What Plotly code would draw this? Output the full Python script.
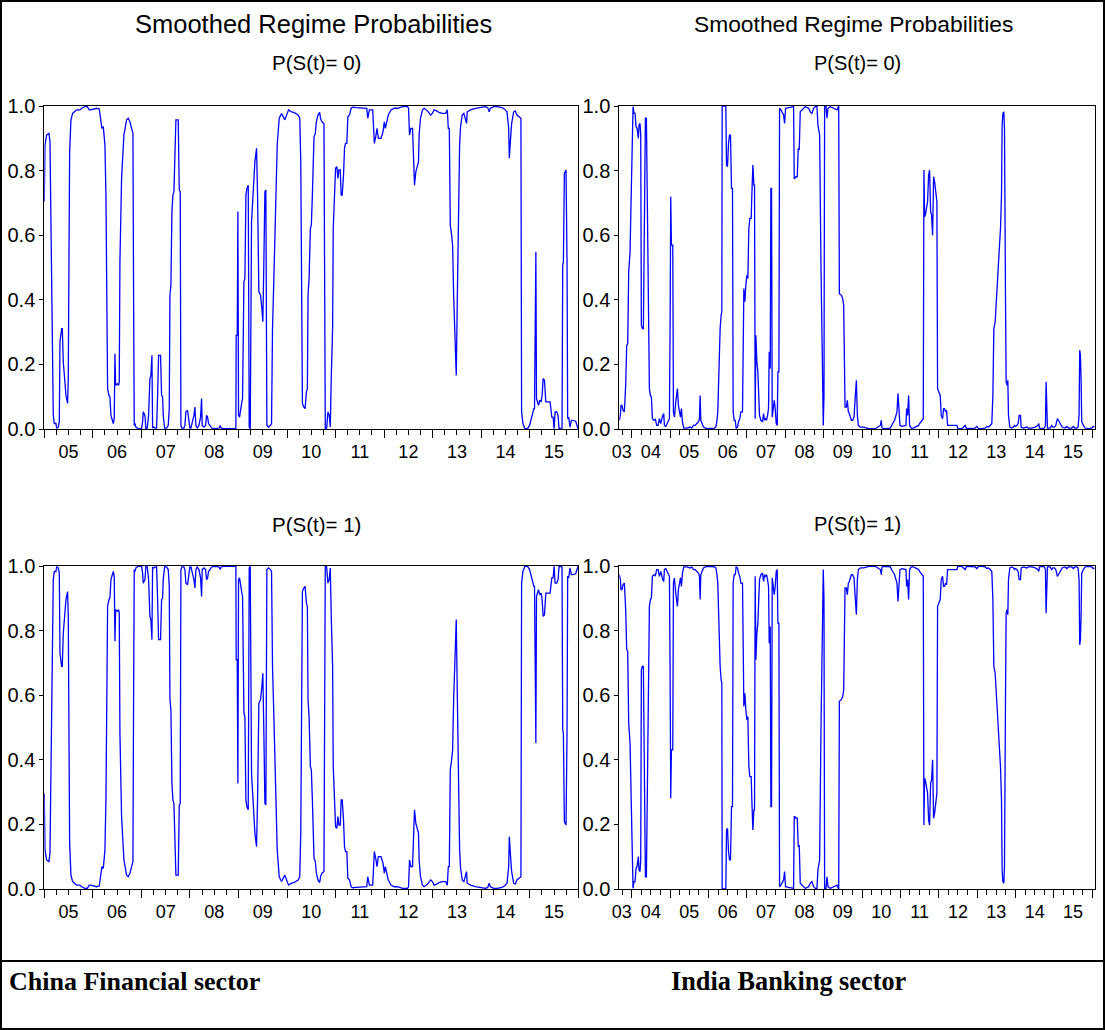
import plotly.graph_objects as go

# ---------------- DATA ----------------
china_dates = [
    2005.000, 2005.014, 2005.048, 2005.096, 2005.117, 2005.137, 2005.165, 2005.185, 2005.206, 2005.240,
    2005.254, 2005.288, 2005.309, 2005.323, 2005.357, 2005.371, 2005.391, 2005.412, 2005.426, 2005.446,
    2005.480, 2005.494, 2005.508, 2005.522, 2005.549, 2005.583, 2005.666, 2005.734, 2005.769, 2005.837,
    2005.885, 2005.927, 2005.954, 2006.009, 2006.078, 2006.132, 2006.160, 2006.187, 2006.215, 2006.249,
    2006.270, 2006.290, 2006.304, 2006.332, 2006.352, 2006.373, 2006.400, 2006.421, 2006.441, 2006.455,
    2006.469, 2006.503, 2006.531, 2006.544, 2006.558, 2006.592, 2006.640, 2006.695, 2006.730, 2006.764,
    2006.798, 2006.826, 2006.839, 2006.853, 2006.867, 2006.887, 2006.935, 2007.004, 2007.025, 2007.038,
    2007.073, 2007.093, 2007.121, 2007.148, 2007.176, 2007.196, 2007.217, 2007.231, 2007.258, 2007.286,
    2007.313, 2007.334, 2007.354, 2007.395, 2007.416, 2007.437, 2007.450, 2007.478, 2007.519, 2007.553,
    2007.574, 2007.588, 2007.608, 2007.629, 2007.649, 2007.670, 2007.690, 2007.711, 2007.759, 2007.780,
    2007.800, 2007.814, 2007.835, 2007.876, 2007.896, 2007.917, 2007.951, 2007.979, 2007.999, 2008.020,
    2008.054, 2008.082, 2008.102, 2008.123, 2008.150, 2008.185, 2008.219, 2008.240, 2008.253, 2008.288,
    2008.322, 2008.343, 2008.363, 2008.384, 2008.411, 2008.446, 2008.514, 2008.603, 2008.624, 2008.645,
    2008.686, 2008.946, 2008.953, 2008.974, 2008.988, 2009.001, 2009.022, 2009.043, 2009.070, 2009.084,
    2009.112, 2009.132, 2009.153, 2009.173, 2009.201, 2009.221, 2009.242, 2009.269, 2009.303, 2009.338,
    2009.372, 2009.393, 2009.420, 2009.454, 2009.482, 2009.502, 2009.523, 2009.544, 2009.564, 2009.585,
    2009.619, 2009.660, 2009.681, 2009.701, 2009.729, 2009.756, 2009.798, 2009.839, 2009.887, 2009.955,
    2009.990, 2010.031, 2010.093, 2010.141,
    2010.228, 2010.262, 2010.283, 2010.296, 2010.317, 2010.344, 2010.372, 2010.399, 2010.419, 2010.433,
    2010.454, 2010.481, 2010.501, 2010.522, 2010.542, 2010.556, 2010.583, 2010.604, 2010.638, 2010.672,
    2010.693, 2010.720, 2010.761, 2010.775, 2010.788, 2010.816, 2010.843, 2010.870, 2010.891, 2010.911,
    2010.939, 2010.952, 2010.980, 2011.000, 2011.027, 2011.048, 2011.068, 2011.096, 2011.116, 2011.137,
    2011.164, 2011.184, 2011.205, 2011.232, 2011.253, 2011.287, 2011.321, 2011.355, 2011.423, 2011.526,
    2011.594, 2011.642, 2011.663, 2011.697, 2011.765, 2011.799, 2011.833, 2011.854, 2011.881, 2011.936,
    2011.977, 2012.004, 2012.025, 2012.052, 2012.086, 2012.141, 2012.209, 2012.277, 2012.380, 2012.482,
    2012.503, 2012.523, 2012.551, 2012.585, 2012.605, 2012.626, 2012.653, 2012.687, 2012.708, 2012.721,
    2012.749, 2012.790, 2012.824, 2012.892, 2012.960, 2012.995, 2013.029, 2013.083, 2013.131, 2013.199,
    2013.268, 2013.302, 2013.322, 2013.343, 2013.363, 2013.391, 2013.411, 2013.432, 2013.459, 2013.486,
    2013.507, 2013.527, 2013.555, 2013.575, 2013.609, 2013.643, 2013.678, 2013.698, 2013.712, 2013.780,
    2013.883, 2013.985, 2014.087, 2014.135, 2014.163, 2014.190, 2014.258, 2014.327, 2014.429, 2014.477,
    2014.531, 2014.566, 2014.579, 2014.600, 2014.627, 2014.668, 2014.702, 2014.736, 2014.791, 2014.818,
    2014.832, 2014.859, 2014.900, 2014.955, 2014.996, 2015.030, 2015.064, 2015.085, 2015.098, 2015.112,
    2015.126, 2015.139, 2015.160, 2015.180, 2015.207, 2015.235, 2015.255, 2015.276, 2015.303, 2015.331,
    2015.365, 2015.419, 2015.454, 2015.481, 2015.501, 2015.522, 2015.556, 2015.583, 2015.604, 2015.638,
    2015.665, 2015.679, 2015.693, 2015.713, 2015.747, 2015.768, 2015.781, 2015.802, 2015.829, 2015.857,
    2015.891, 2015.945, 2015.980, 2015.995,
]

china_p0 = [
    0.704, 0.879, 0.910, 0.915, 0.889, 0.621, 0.311, 0.042, 0.017, 0.017,
    0.003, 0.006, 0.022, 0.270, 0.311, 0.311, 0.208, 0.166, 0.166, 0.104,
    0.079, 0.156, 0.518, 0.858, 0.957, 0.977, 0.988, 0.988, 0.993, 0.998,
    0.998, 0.988, 0.988, 0.991, 0.993, 0.991, 0.967, 0.931, 0.936, 0.879,
    0.724, 0.414, 0.125, 0.104, 0.099, 0.042, 0.027, 0.017, 0.032, 0.233,
    0.135, 0.140, 0.135, 0.146, 0.518, 0.776, 0.910, 0.957, 0.962, 0.951,
    0.931, 0.915, 0.414, 0.011, 0.017, 0.006, 0.001, 0.001, 0.022, 0.053,
    0.042, 0.001, 0.003, 0.042, 0.156, 0.166, 0.228, 0.003, 0.006, 0.003,
    0.003, 0.104, 0.228, 0.228, 0.104, 0.099, 0.042, 0.003, 0.003, 0.011,
    0.063, 0.414, 0.445, 0.673, 0.724, 0.735, 0.879, 0.957, 0.957, 0.740,
    0.735, 0.011, 0.003, 0.003, 0.011, 0.053, 0.058, 0.017, 0.003, 0.003,
    0.022, 0.042, 0.068, 0.011, 0.003, 0.011, 0.037, 0.094, 0.011, 0.006,
    0.011, 0.042, 0.037, 0.017, 0.011, 0.003, 0.001, 0.003, 0.011, 0.003,
    0.001, 0.001, 0.290, 0.290, 0.673, 0.042, 0.037, 0.063, 0.084, 0.094,
    0.456, 0.466, 0.724, 0.745, 0.755, 0.006, 0.001, 0.642, 0.724, 0.827,
    0.869, 0.724, 0.425, 0.414, 0.373, 0.332, 0.518, 0.735, 0.740, 0.011,
    0.006, 0.011, 0.017, 0.311, 0.466, 0.600, 0.879, 0.962, 0.977, 0.957,
    0.972, 0.988, 0.982, 0.980,
    0.972, 0.962, 0.827, 0.518, 0.079, 0.068, 0.063, 0.115, 0.125, 0.414,
    0.466, 0.621, 0.631, 0.724, 0.827, 0.905, 0.915, 0.951, 0.972, 0.980,
    0.960, 0.951, 0.946, 0.414, 0.001, 0.003, 0.053, 0.042, 0.006, 0.156,
    0.311, 0.621, 0.724, 0.807, 0.812, 0.776, 0.802, 0.802, 0.724, 0.724,
    0.786, 0.869, 0.884, 0.884, 0.967, 0.972, 0.993, 0.996, 0.995, 0.995,
    0.993, 0.993, 0.962, 0.988, 0.988, 0.884, 0.910, 0.931, 0.900, 0.900,
    0.920, 0.951, 0.931, 0.951, 0.972, 0.988, 0.993, 0.993, 0.998, 0.998,
    0.993, 0.910, 0.931, 0.931, 0.848, 0.755, 0.796, 0.812, 0.827, 0.910,
    0.962, 0.988, 0.993, 0.985, 0.972, 0.977, 0.988, 0.985, 0.980, 0.977,
    0.977, 0.988, 0.931, 0.931, 0.631, 0.600, 0.569, 0.414, 0.311, 0.166,
    0.394, 0.621, 0.879, 0.936, 0.972, 0.977, 0.951, 0.946, 0.982, 0.988,
    0.993, 0.996, 0.998, 0.995, 0.982, 0.993, 0.998, 0.998, 0.995, 0.991,
    0.982, 0.931, 0.838, 0.889, 0.946, 0.982, 0.985, 0.972, 0.967, 0.962,
    0.053, 0.017, 0.001, 0.001, 0.011, 0.032, 0.053, 0.063, 0.063, 0.549,
    0.549, 0.094, 0.084, 0.073, 0.089, 0.084, 0.104, 0.156, 0.151, 0.084,
    0.084, 0.084, 0.037, 0.037, 0.001, 0.053, 0.053, 0.042, 0.001, 0.001,
    0.003, 0.507, 0.518, 0.791, 0.802, 0.518, 0.032, 0.037, 0.006, 0.027,
    0.027, 0.024, 0.011, 0.001,
]

china_p1 = [
    0.296, 0.121, 0.090, 0.085, 0.111, 0.379, 0.689, 0.958, 0.983, 0.983,
    0.997, 0.994, 0.978, 0.730, 0.689, 0.689, 0.792, 0.834, 0.834, 0.896,
    0.921, 0.844, 0.482, 0.142, 0.043, 0.023, 0.012, 0.012, 0.007, 0.002,
    0.002, 0.012, 0.012, 0.009, 0.007, 0.009, 0.033, 0.069, 0.064, 0.121,
    0.276, 0.586, 0.875, 0.896, 0.901, 0.958, 0.973, 0.983, 0.968, 0.767,
    0.865, 0.860, 0.865, 0.854, 0.482, 0.224, 0.090, 0.043, 0.038, 0.049,
    0.069, 0.085, 0.586, 0.989, 0.983, 0.994, 0.999, 0.999, 0.978, 0.947,
    0.958, 0.999, 0.997, 0.958, 0.844, 0.834, 0.772, 0.997, 0.994, 0.997,
    0.997, 0.896, 0.772, 0.772, 0.896, 0.901, 0.958, 0.997, 0.997, 0.989,
    0.937, 0.586, 0.555, 0.327, 0.276, 0.265, 0.121, 0.043, 0.043, 0.260,
    0.265, 0.989, 0.997, 0.997, 0.989, 0.947, 0.942, 0.983, 0.997, 0.997,
    0.978, 0.958, 0.932, 0.989, 0.997, 0.989, 0.963, 0.906, 0.989, 0.994,
    0.989, 0.958, 0.963, 0.983, 0.989, 0.997, 0.999, 0.997, 0.989, 0.997,
    0.999, 0.999, 0.710, 0.710, 0.327, 0.958, 0.963, 0.937, 0.916, 0.906,
    0.544, 0.534, 0.276, 0.255, 0.245, 0.994, 0.999, 0.358, 0.276, 0.173,
    0.131, 0.276, 0.575, 0.586, 0.627, 0.668, 0.482, 0.265, 0.260, 0.989,
    0.994, 0.989, 0.983, 0.689, 0.534, 0.400, 0.121, 0.038, 0.023, 0.043,
    0.028, 0.012, 0.018, 0.020,
    0.028, 0.038, 0.173, 0.482, 0.921, 0.932, 0.937, 0.885, 0.875, 0.586,
    0.534, 0.379, 0.369, 0.276, 0.173, 0.095, 0.085, 0.049, 0.028, 0.020,
    0.040, 0.049, 0.054, 0.586, 0.999, 0.997, 0.947, 0.958, 0.994, 0.844,
    0.689, 0.379, 0.276, 0.193, 0.188, 0.224, 0.198, 0.198, 0.276, 0.276,
    0.214, 0.131, 0.116, 0.116, 0.033, 0.028, 0.007, 0.004, 0.005, 0.005,
    0.007, 0.007, 0.038, 0.012, 0.012, 0.116, 0.090, 0.069, 0.100, 0.100,
    0.080, 0.049, 0.069, 0.049, 0.028, 0.012, 0.007, 0.007, 0.002, 0.002,
    0.007, 0.090, 0.069, 0.069, 0.152, 0.245, 0.204, 0.188, 0.173, 0.090,
    0.038, 0.012, 0.007, 0.015, 0.028, 0.023, 0.012, 0.015, 0.020, 0.023,
    0.023, 0.012, 0.069, 0.069, 0.369, 0.400, 0.431, 0.586, 0.689, 0.834,
    0.606, 0.379, 0.121, 0.064, 0.028, 0.023, 0.049, 0.054, 0.018, 0.012,
    0.007, 0.004, 0.002, 0.005, 0.018, 0.007, 0.002, 0.002, 0.005, 0.009,
    0.018, 0.069, 0.162, 0.111, 0.054, 0.018, 0.015, 0.028, 0.033, 0.038,
    0.947, 0.983, 0.999, 0.999, 0.989, 0.968, 0.947, 0.937, 0.937, 0.451,
    0.451, 0.906, 0.916, 0.927, 0.911, 0.916, 0.896, 0.844, 0.849, 0.916,
    0.916, 0.916, 0.963, 0.963, 0.999, 0.947, 0.947, 0.958, 0.999, 0.999,
    0.997, 0.493, 0.482, 0.209, 0.198, 0.482, 0.968, 0.963, 0.994, 0.973,
    0.973, 0.976, 0.989, 0.999,
]

india_dates = [
    2003.678, 2003.704, 2003.722, 2003.748, 2003.774, 2003.809, 2003.843, 2003.870, 2003.896, 2003.922,
    2003.957, 2003.983, 2004.009, 2004.035, 2004.061, 2004.087, 2004.113, 2004.139, 2004.174, 2004.191,
    2004.217, 2004.235, 2004.252, 2004.278, 2004.304, 2004.330, 2004.357, 2004.383, 2004.409, 2004.435,
    2004.461, 2004.487, 2004.513, 2004.539, 2004.583, 2004.617, 2004.652, 2004.687, 2004.722, 2004.757,
    2004.783, 2004.809, 2004.835, 2004.852, 2004.887, 2004.930, 2004.965, 2004.983, 2005.000, 2005.017,
    2005.035, 2005.070, 2005.087, 2005.113, 2005.148, 2005.191, 2005.217, 2005.243, 2005.270, 2005.296,
    2005.322, 2005.357, 2005.435, 2005.522, 2005.565, 2005.609, 2005.652, 2005.696, 2005.739, 2005.765,
    2005.783, 2005.800, 2005.826, 2005.870, 2005.957, 2006.043, 2006.157, 2006.191, 2006.217, 2006.243,
    2006.278, 2006.304, 2006.330, 2006.348, 2006.357, 2006.452, 2006.470, 2006.496, 2006.522, 2006.548,
    2006.574, 2006.600, 2006.626, 2006.643, 2006.670, 2006.696, 2006.722, 2006.757, 2006.783, 2006.817,
    2006.843, 2006.887, 2006.922, 2006.948, 2006.974, 2007.000, 2007.026, 2007.052, 2007.078, 2007.113,
    2007.130, 2007.157, 2007.183, 2007.200, 2007.217, 2007.235, 2007.261, 2007.287, 2007.313, 2007.330,
    2007.365, 2007.409, 2007.435, 2007.461, 2007.487, 2007.513, 2007.539, 2007.565, 2007.583, 2007.609,
    2007.626, 2007.643, 2007.661, 2007.687, 2007.713, 2007.739, 2007.765, 2007.791, 2007.809, 2007.835,
    2007.852, 2007.887, 2007.922, 2007.957, 2007.983, 2008.009, 2008.087, 2008.174, 2008.217, 2008.235,
    2008.252, 2008.278, 2008.313, 2008.339, 2008.365, 2008.391, 2008.435, 2008.522, 2008.609, 2008.652,
    2008.696, 2008.739, 2008.783, 2008.826, 2008.852, 2008.896, 2008.930, 2008.957, 2008.974, 2008.991,
    2009.009, 2009.026, 2009.061, 2009.087, 2009.113, 2009.174, 2009.261, 2009.348,
    2009.393, 2009.410, 2009.462, 2009.497, 2009.523, 2009.540, 2009.558, 2009.592, 2009.618, 2009.644,
    2009.670, 2009.696, 2009.722, 2009.757, 2009.792, 2009.827, 2009.853, 2009.879, 2009.905, 2009.957,
    2010.043, 2010.130, 2010.173, 2010.347, 2010.434, 2010.477, 2010.503, 2010.520, 2010.607, 2010.737,
    2010.798, 2010.850, 2010.885, 2010.911, 2010.937, 2010.963, 2010.989, 2011.041, 2011.110, 2011.145,
    2011.162, 2011.188, 2011.214, 2011.240, 2011.284, 2011.344, 2011.388, 2011.431, 2011.474, 2011.500,
    2011.535, 2011.570, 2011.596, 2011.613, 2011.631, 2011.657, 2011.683, 2011.709, 2011.735, 2011.761,
    2011.787, 2011.813, 2011.839, 2011.865, 2011.891, 2011.925, 2011.951, 2011.969, 2012.003, 2012.038,
    2012.064, 2012.099, 2012.125, 2012.151, 2012.177, 2012.203, 2012.229, 2012.255, 2012.298, 2012.342,
    2012.428, 2012.472, 2012.498, 2012.602, 2012.645, 2012.689, 2012.723, 2012.862, 2012.949, 2012.992,
    2013.036, 2013.122, 2013.209, 2013.252, 2013.296, 2013.339, 2013.382, 2013.409, 2013.435, 2013.469,
    2013.504, 2013.539, 2013.573, 2013.608, 2013.634, 2013.651, 2013.669, 2013.695, 2013.712, 2013.738,
    2013.755, 2013.781, 2013.799, 2013.816, 2013.851, 2013.903, 2013.946, 2013.972, 2013.998, 2014.033,
    2014.068, 2014.094, 2014.128, 2014.146, 2014.206, 2014.293, 2014.337, 2014.423, 2014.510, 2014.579,
    2014.605, 2014.623, 2014.683, 2014.753, 2014.779, 2014.796, 2014.814, 2014.831, 2014.900, 2014.944,
    2014.970, 2015.013, 2015.048, 2015.091, 2015.117, 2015.143, 2015.178, 2015.213, 2015.291, 2015.334,
    2015.377, 2015.464, 2015.507, 2015.542, 2015.594, 2015.629, 2015.655, 2015.672, 2015.690, 2015.707,
    2015.724, 2015.768, 2015.811, 2015.898, 2015.984, 2016.028, 2016.054,
]

india_p0 = [
    0.027, 0.042, 0.073, 0.073, 0.058, 0.053, 0.135, 0.259, 0.264, 0.487,
    0.549, 0.724, 0.931, 0.998, 0.977, 0.977, 0.936, 0.931, 0.900, 0.941,
    0.946, 0.910, 0.321, 0.311, 0.311, 0.569, 0.962, 0.962, 0.724, 0.518,
    0.125, 0.104, 0.099, 0.032, 0.027, 0.030, 0.011, 0.011, 0.032, 0.017,
    0.037, 0.042, 0.048, 0.011, 0.008, 0.017, 0.027, 0.032, 0.311, 0.719,
    0.569, 0.569, 0.053, 0.037, 0.084, 0.125, 0.073, 0.053, 0.037, 0.063,
    0.022, 0.003, 0.003, 0.006, 0.003, 0.011, 0.011, 0.017, 0.022, 0.032,
    0.104, 0.027, 0.017, 0.006, 0.001, 0.001, 0.003, 0.006, 0.022, 0.053,
    0.270, 0.311, 0.352, 0.363, 1.000, 1.000, 0.817, 0.812, 0.884, 0.910,
    0.910, 0.745, 0.745, 0.053, 0.027, 0.027, 0.003, 0.006, 0.022, 0.032,
    0.053, 0.053, 0.435, 0.394, 0.445, 0.476, 0.466, 0.621, 0.652, 0.652,
    0.724, 0.817, 0.755, 0.755, 0.032, 0.290, 0.208, 0.177, 0.094, 0.042,
    0.027, 0.022, 0.048, 0.027, 0.032, 0.027, 0.042, 0.063, 0.239, 0.187,
    0.745, 0.745, 0.037, 0.058, 0.089, 0.063, 0.017, 0.011, 0.177, 0.177,
    0.993, 0.988, 0.977, 0.972, 0.946, 0.993, 0.995, 0.998, 0.998, 0.776,
    0.776, 0.781, 0.781, 0.869, 0.864, 0.982, 0.988, 0.998, 0.993, 0.982,
    0.977, 0.993, 0.998, 0.998, 0.941, 0.910, 0.518, 0.208, 0.135, 0.011,
    0.104, 1.000, 1.000, 0.962, 0.993, 0.998, 0.993, 0.988,
    1.000, 0.419, 0.414, 0.404, 0.383, 0.104, 0.068, 0.068, 0.089, 0.053,
    0.048, 0.037, 0.027, 0.027, 0.037, 0.104, 0.151, 0.042, 0.011, 0.006,
    0.006, 0.003, 0.001, 0.001, 0.006, 0.011, 0.027, 0.003, 0.001, 0.003,
    0.017, 0.027, 0.042, 0.053, 0.110, 0.053, 0.011, 0.008, 0.011, 0.011,
    0.063, 0.042, 0.104, 0.011, 0.003, 0.003, 0.006, 0.008, 0.011, 0.017,
    0.022, 0.027, 0.032, 0.802, 0.657, 0.667, 0.693, 0.704, 0.786, 0.802,
    0.673, 0.662, 0.600, 0.781, 0.766, 0.724, 0.704, 0.125, 0.115, 0.104,
    0.042, 0.032, 0.063, 0.063, 0.053, 0.058, 0.011, 0.011, 0.009, 0.011,
    0.011, 0.011, 0.001, 0.001, 0.006, 0.011, 0.001, 0.001, 0.003, 0.008,
    0.001, 0.001, 0.003, 0.008, 0.006, 0.011, 0.017, 0.104, 0.311, 0.332,
    0.394, 0.487, 0.549, 0.621, 0.724, 0.941, 0.977, 0.982, 0.931, 0.414,
    0.146, 0.135, 0.151, 0.042, 0.006, 0.003, 0.006, 0.011, 0.008, 0.011,
    0.017, 0.042, 0.042, 0.006, 0.003, 0.006, 0.003, 0.003, 0.006, 0.011,
    0.017, 0.003, 0.001, 0.003, 0.011, 0.146, 0.042, 0.003, 0.003, 0.011,
    0.006, 0.006, 0.011, 0.032, 0.027, 0.022, 0.011, 0.006, 0.003, 0.008,
    0.003, 0.003, 0.008, 0.003, 0.003, 0.006, 0.042, 0.244, 0.228, 0.156,
    0.022, 0.011, 0.003, 0.001, 0.003, 0.008, 0.006,
]

india_p1 = [
    0.973, 0.958, 0.927, 0.927, 0.942, 0.947, 0.865, 0.741, 0.736, 0.513,
    0.451, 0.276, 0.069, 0.002, 0.023, 0.023, 0.064, 0.069, 0.100, 0.059,
    0.054, 0.090, 0.679, 0.689, 0.689, 0.431, 0.038, 0.038, 0.276, 0.482,
    0.875, 0.896, 0.901, 0.968, 0.973, 0.970, 0.989, 0.989, 0.968, 0.983,
    0.963, 0.958, 0.952, 0.989, 0.992, 0.983, 0.973, 0.968, 0.689, 0.281,
    0.431, 0.431, 0.947, 0.963, 0.916, 0.875, 0.927, 0.947, 0.963, 0.937,
    0.978, 0.997, 0.997, 0.994, 0.997, 0.989, 0.989, 0.983, 0.978, 0.968,
    0.896, 0.973, 0.983, 0.994, 0.999, 0.999, 0.997, 0.994, 0.978, 0.947,
    0.730, 0.689, 0.648, 0.637, 0.000, 0.000, 0.183, 0.188, 0.116, 0.090,
    0.090, 0.255, 0.255, 0.947, 0.973, 0.973, 0.997, 0.994, 0.978, 0.968,
    0.947, 0.947, 0.565, 0.606, 0.555, 0.524, 0.534, 0.379, 0.348, 0.348,
    0.276, 0.183, 0.245, 0.245, 0.968, 0.710, 0.792, 0.823, 0.906, 0.958,
    0.973, 0.978, 0.952, 0.973, 0.968, 0.973, 0.958, 0.937, 0.761, 0.813,
    0.255, 0.255, 0.963, 0.942, 0.911, 0.937, 0.983, 0.989, 0.823, 0.823,
    0.007, 0.012, 0.023, 0.028, 0.054, 0.007, 0.005, 0.002, 0.002, 0.224,
    0.224, 0.219, 0.219, 0.131, 0.136, 0.018, 0.012, 0.002, 0.007, 0.018,
    0.023, 0.007, 0.002, 0.002, 0.059, 0.090, 0.482, 0.792, 0.865, 0.989,
    0.896, 0.000, 0.000, 0.038, 0.007, 0.002, 0.007, 0.012,
    0.000, 0.581, 0.586, 0.596, 0.617, 0.896, 0.932, 0.932, 0.911, 0.947,
    0.952, 0.963, 0.973, 0.973, 0.963, 0.896, 0.849, 0.958, 0.989, 0.994,
    0.994, 0.997, 0.999, 0.999, 0.994, 0.989, 0.973, 0.997, 0.999, 0.997,
    0.983, 0.973, 0.958, 0.947, 0.890, 0.947, 0.989, 0.992, 0.989, 0.989,
    0.937, 0.958, 0.896, 0.989, 0.997, 0.997, 0.994, 0.992, 0.989, 0.983,
    0.978, 0.973, 0.968, 0.198, 0.343, 0.333, 0.307, 0.296, 0.214, 0.198,
    0.327, 0.338, 0.400, 0.219, 0.234, 0.276, 0.296, 0.875, 0.885, 0.896,
    0.958, 0.968, 0.937, 0.937, 0.947, 0.942, 0.989, 0.989, 0.991, 0.989,
    0.989, 0.989, 0.999, 0.999, 0.994, 0.989, 0.999, 0.999, 0.997, 0.992,
    0.999, 0.999, 0.997, 0.992, 0.994, 0.989, 0.983, 0.896, 0.689, 0.668,
    0.606, 0.513, 0.451, 0.379, 0.276, 0.059, 0.023, 0.018, 0.069, 0.586,
    0.854, 0.865, 0.849, 0.958, 0.994, 0.997, 0.994, 0.989, 0.992, 0.989,
    0.983, 0.958, 0.958, 0.994, 0.997, 0.994, 0.997, 0.997, 0.994, 0.989,
    0.983, 0.997, 0.999, 0.997, 0.989, 0.854, 0.958, 0.997, 0.997, 0.989,
    0.994, 0.994, 0.989, 0.968, 0.973, 0.978, 0.989, 0.994, 0.997, 0.992,
    0.997, 0.997, 0.992, 0.997, 0.997, 0.994, 0.958, 0.756, 0.772, 0.844,
    0.978, 0.989, 0.997, 0.999, 0.997, 0.992, 0.994,
]

# tick labels (two-digit years) and where they sit on the time axis
china_year_labels = ["05", "06", "07", "08", "09", "10", "11", "12", "13", "14", "15"]
china_label_pos = [2005.5, 2006.5, 2007.5, 2008.5, 2009.5, 2010.5, 2011.5, 2012.5, 2013.5, 2014.5, 2015.5]
india_year_labels = ["03", "04", "05", "06", "07", "08", "09", "10", "11", "12", "13", "14", "15"]
india_label_pos = [2003.74, 2004.5, 2005.5, 2006.5, 2007.5, 2008.5, 2009.5, 2010.5, 2011.5,
                   2012.5, 2013.5, 2014.5, 2015.5]
china_range = [2005.0, 2016.0]
india_range = [2003.677, 2016.07]
y_ticks = [0.0, 0.2, 0.4, 0.6, 0.8, 1.0]
y_tick_text = ["0.0", "0.2", "0.4", "0.6", "0.8", "1.0"]

# ---------------- LAYOUT ----------------
W, H = 1105, 1030
SANS = "Liberation Sans, Arial, sans-serif"
SERIF = "Liberation Serif, Times New Roman, serif"
BLUE = "#0000FF"


def fx(p):
    return p / W


def fy(p):
    return 1 - p / H


left_dom = [fx(44.3), fx(578.3)]
right_dom = [fx(619.3), fx(1095.0)]
top_dom = [fy(429.0), fy(106.0)]
bot_dom = [fy(889.0), fy(566.0)]


def year_bounds(rng):
    lo, hi = int(rng[0]), int(rng[1]) + 1
    return [float(y) for y in range(lo, hi + 1) if rng[0] - 1e-6 <= y <= rng[1] + 1e-6]


def quarter_ticks(rng):
    lo, hi = int(rng[0]), int(rng[1]) + 1
    out = []
    for y in range(lo, hi + 1):
        for q in (0.25, 0.5, 0.75):
            v = y + q
            if rng[0] - 1e-6 <= v <= rng[1] + 1e-6:
                out.append(v)
    return out


def main_xaxis(rng, dom, anchor):
    return dict(
        domain=dom, range=rng, anchor=anchor, showgrid=False, zeroline=False, automargin=False,
        showline=True, mirror=True, linecolor="black", linewidth=1,
        ticks="outside", ticklen=8, tickwidth=1, tickcolor="black",
        tickmode="array", tickvals=year_bounds(rng), showticklabels=False,
        minor=dict(tickmode="array", tickvals=quarter_ticks(rng), ticks="outside",
                   ticklen=5, tickwidth=1, tickcolor="black", showgrid=False),
    )


def label_xaxis(rng, dom, over, anchor, pos, text):
    return dict(
        domain=dom, range=rng, overlaying=over, anchor=anchor, side="bottom", automargin=False,
        showgrid=False, zeroline=False, showline=False,
        ticks="outside", ticklen=6, tickcolor="rgba(0,0,0,0)",
        tickmode="array", tickvals=pos, ticktext=text,
        tickfont=dict(family=SANS, size=18, color="black"),
    )


def yaxis(dom, anchor):
    return dict(
        domain=dom, range=[0, 1], anchor=anchor, showgrid=False, zeroline=False, automargin=False,
        showline=True, mirror=True, linecolor="black", linewidth=1,
        ticks="outside", ticklen=4, tickwidth=1, tickcolor="black",
        tickmode="array", tickvals=y_ticks, ticktext=y_tick_text,
        tickfont=dict(family=SANS, size=20, color="black"),
    )


fig = go.Figure()

series = [
    (china_dates, china_p0, "x", "y"),
    (india_dates, india_p0, "x2", "y2"),
    (china_dates, china_p1, "x3", "y3"),
    (india_dates, india_p1, "x4", "y4"),
]
for xs, ys, xa, ya in series:
    fig.add_trace(go.Scatter(x=xs, y=ys, mode="lines", xaxis=xa, yaxis=ya,
                             line=dict(color=BLUE, width=1.3),
                             showlegend=False, hoverinfo="skip"))

# empty carriers for the year-label axes
for xa, ya in (("x5", "y"), ("x6", "y2"), ("x7", "y3"), ("x8", "y4")):
    fig.add_trace(go.Scatter(x=[None], y=[None], mode="lines", xaxis=xa, yaxis=ya,
                             showlegend=False, hoverinfo="skip"))

fig.update_layout(
    width=W, height=H, autosize=False,
    margin=dict(l=0, r=0, t=0, b=0, pad=0, autoexpand=False),
    paper_bgcolor="white", plot_bgcolor="white",
    showlegend=False,
    xaxis=main_xaxis(china_range, left_dom, "y"),
    xaxis2=main_xaxis(india_range, right_dom, "y2"),
    xaxis3=main_xaxis(china_range, left_dom, "y3"),
    xaxis4=main_xaxis(india_range, right_dom, "y4"),
    xaxis5=label_xaxis(china_range, left_dom, "x", "y", china_label_pos, china_year_labels),
    xaxis6=label_xaxis(india_range, right_dom, "x2", "y2", india_label_pos, india_year_labels),
    xaxis7=label_xaxis(china_range, left_dom, "x3", "y3", china_label_pos, china_year_labels),
    xaxis8=label_xaxis(india_range, right_dom, "x4", "y4", india_label_pos, india_year_labels),
    yaxis=yaxis(top_dom, "x"),
    yaxis2=yaxis(top_dom, "x2"),
    yaxis3=yaxis(bot_dom, "x3"),
    yaxis4=yaxis(bot_dom, "x4"),
)

rc = (right_dom[0] + right_dom[1]) / 2
annos = [
    dict(text="Smoothed Regime Probabilities", x=fx(313), y=fy(24), size=25.5),
    dict(text="Smoothed Regime Probabilities", x=fx(853), y=fy(24), size=22.8),
    dict(text="P(S(t)= 0)", x=fx(316), y=fy(63), size=20.5),
    dict(text="P(S(t)= 0)", x=rc, y=fy(63), size=20),
    dict(text="P(S(t)= 1)", x=fx(316), y=fy(524), size=20.5),
    dict(text="P(S(t)= 1)", x=rc, y=fy(524), size=20),
]
for a in annos:
    fig.add_annotation(text=a["text"], x=a["x"], y=a["y"], xref="paper", yref="paper",
                       xanchor="center", yanchor="middle", showarrow=False,
                       font=dict(family=SANS, size=a["size"], color="black"))

fig.add_annotation(text="<b>China Financial sector</b>", x=fx(7), y=fy(981), xref="paper", yref="paper",
                   xanchor="left", yanchor="middle", showarrow=False,
                   font=dict(family=SERIF, size=26, color="black"))
fig.add_annotation(text="<b>India Banking sector</b>", x=fx(669), y=fy(981), xref="paper", yref="paper",
                   xanchor="left", yanchor="middle", showarrow=False,
                   font=dict(family=SERIF, size=26.3, color="black"))

# outer frame and the separator line of the surrounding table
fig.add_shape(type="rect", xref="paper", yref="paper", x0=fx(1), x1=fx(1104), y0=fy(1029), y1=fy(1),
              line=dict(color="black", width=2), fillcolor="rgba(0,0,0,0)", layer="above")
fig.add_shape(type="line", xref="paper", yref="paper", x0=fx(0), x1=fx(1105), y0=fy(961), y1=fy(961),
              line=dict(color="black", width=2), layer="above")

# place the figure at the page origin (remove the default body margin); no modebar
fig.write_html("out.html", config={"displayModeBar": False, "staticPlot": True},
               post_script="document.body.style.margin='0px';")
